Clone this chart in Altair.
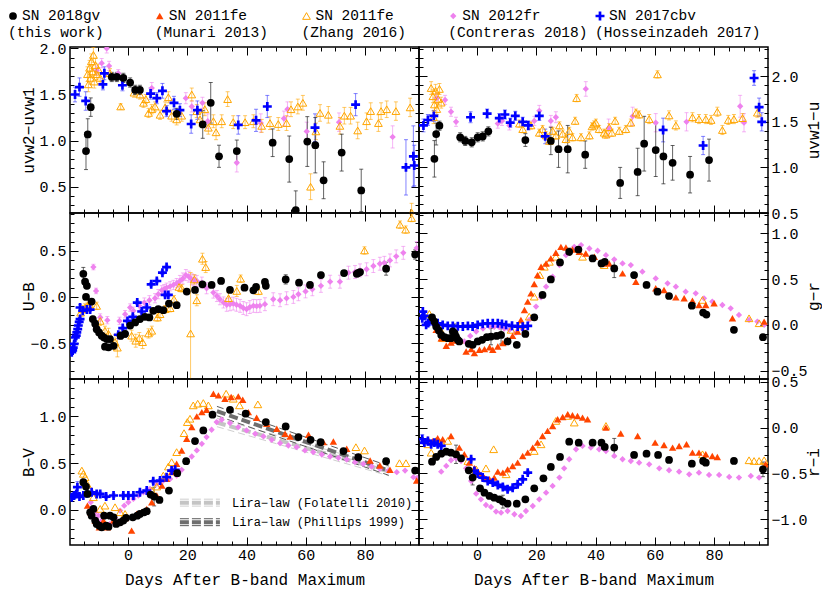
import altair as alt
import pandas as pd

# ------------------------------------------------------------------ settings
XDOM = [-19.6, 98.2]
W, H = 349, 166
FONT = "Courier New, Courier, Liberation Mono, monospace"
XTITLE = "Days After B-band Maximum"
XMAJ = [0, 20, 40, 60, 80]
XMIN = [v for v in range(-15, 100, 5) if v % 20 != 0]

KEYS = ["gv", "munari", "zhang", "fr", "cbv"]
LEG1 = ["SN 2018gv", "SN 2011fe", "SN 2011fe", "SN 2012fr", "SN 2017cbv"]
LEG2 = ["(this work)", "(Munari 2013)", "(Zhang 2016)", "(Contreras 2018)", "(Hosseinzadeh 2017)"]
ORDER = ["fr", "zhang", "munari", "cbv", "gv"]

PLUS = "M-1,-0.3H-0.3V-1H0.3V-0.3H1V0.3H0.3V1H-0.3V0.3H-1Z"
STYLE = {
    "gv": dict(shape="circle", filled=True, color="black", size=60),
    "munari": dict(shape="triangle-up", filled=True, color="#FF4500", size=55),
    "zhang": dict(shape="triangle-up", filled=False, color="#FFA500", size=60, strokeWidth=1),
    "fr": dict(shape="diamond", filled=True, color="#EE82EE", size=40),
    "cbv": dict(shape=PLUS, filled=True, color="#0000FF", size=80),
}
ERRSTYLE = {"gv": ("#222222", 0.7), "munari": ("#FF4500", 0.5), "zhang": ("#FFA500", 0.6),
            "fr": ("#EE82EE", 0.6), "cbv": ("#3030FF", 0.6)}

# ------------------------------------------------------------------ uvw2-uvw1  (day, value, error)
uw2_gv = [(-14.2,0.886,0.20),(-13.6,1.067,0.17),(-12.6,1.363,0.10),(-5.5,1.69,0.05),(-3.8,1.69,0.05),
          (-1.6,1.68,0.05),(0.7,1.63,0.05),(2.4,1.55,0.05),(4.0,1.55,0.05),(16.4,1.29,0.06),
          (25.2,1.175,0.15),(27.9,1.41,0.22),(30.7,0.83,0.12),(36.7,0.886,0.12),(48.8,0.977,0.15),
          (54.4,0.80,0.25),(56.6,0.245,0.21),(60.5,0.99,0.27),(63.2,0.95,0.30),(66.0,0.57,0.20),
          (72.1,0.87,0.20),(78.7,0.46,0.23)]
uw2_cbv = [(-17.9,1.50,0.08),(-16.4,1.58,0.10),(-14.3,1.43,0.10),(-8.5,1.61,0.06),(-8.0,1.73,0.07),
           (-1.9,1.60,0.06),(7.6,1.51,0.06),(9.7,1.46,0.06),(11.6,1.54,0.08),(13.0,1.32,0.06),
           (15.5,1.41,0.07),(17.5,1.33,0.07),(21.3,1.18,0.10),(23.4,1.33,0.10),(37.2,1.17,0.10),
           (43.2,1.22,0.12),(47.0,1.37,0.12),(63.1,1.14,0.15),(76.8,1.39,0.12),(93.8,0.71,0.30),
           (96.3,0.83,0.33),(96.6,0.73,0.22)]
uw2_fr = [(-10.6,1.76,0.05),(-8.9,1.84,0.05),(-7.2,2.00,0.05),(-6.4,1.81,0.05),(-3.3,1.73,0.04),
          (8.0,1.57,0.06),(19.5,1.46,0.06),(21.5,1.37,0.06),(25.1,1.41,0.06),(26.9,1.21,0.08),
          (36.7,0.76,0.10),(44.8,1.19,0.10),(52.6,1.24,0.08),(53.8,1.34,0.08),(60.3,1.10,0.10),
          (71.2,1.20,0.10),(89.3,1.04,0.12)]
uw2_zh = [(-13.7,1.72,0.08),(-13.4,1.61,0.08),(-13.0,1.79,0.08),(-12.7,1.68,0.07),(-12.4,1.86,0.08),
          (-12.0,1.75,0.07),(-11.7,1.93,0.08),(-11.4,1.64,0.07),(-11.0,1.82,0.07),(-10.6,1.72,0.06),
          (-10.0,1.77,0.06),(-9.4,1.68,0.06),(-6.1,1.73,0.05),(-2.5,1.37,0.03),(2.0,1.52,0.05),
          (4.0,1.50,0.05),(5.2,1.41,0.05),(6.0,1.45,0.05),(6.9,1.30,0.05),(8.0,1.34,0.05),
          (9.1,1.37,0.05),(10.8,1.28,0.05),(12.5,1.36,0.06),(13.6,1.47,0.06),(14.7,1.27,0.06),
          (16.4,1.23,0.06),(18.1,1.27,0.06),(21.5,1.50,0.07),(23.2,1.32,0.07),(24.3,1.23,0.07),
          (25.9,1.34,0.07),(27.1,1.14,0.07),(28.8,1.21,0.07),(29.7,1.09,0.08),(31.6,1.21,0.07),
          (33.6,1.45,0.08),(35.5,1.20,0.07),(39.5,1.20,0.07),(42.3,1.21,0.07),(45.1,1.16,0.07),
          (47.9,1.19,0.07),(50.7,1.18,0.07),(53.5,1.19,0.08),(55.0,1.34,0.08),(57.3,1.37,0.08),
          (59.0,1.41,0.08),(61.6,0.50,0.14),(63.4,1.10,0.09),(64.8,1.30,0.09),(67.6,1.28,0.09),
          (71.5,1.16,0.09),(73.0,1.27,0.09),(75.1,1.27,0.09),(77.5,1.11,0.09),(80.5,1.21,0.09),
          (81.9,1.32,0.09),(84.5,1.19,0.09),(85.4,1.32,0.09),(87.3,1.34,0.09),(90.4,1.32,0.10),
          (95.2,1.36,0.10),(95.7,0.22,0.10)]

# ------------------------------------------------------------------ uvw1-u
uw1_gv = [(-14.4,1.094,0.20),(-13.8,1.366,0.12),(-12.7,1.457,0.05),(-5.7,1.33,0.05),(-4.0,1.29,0.05),
          (-1.8,1.275,0.05),(0.2,1.33,0.05),(1.9,1.34,0.05),(3.8,1.395,0.05),(16.3,1.30,0.07),
          (24.9,1.29,0.15),(27.5,1.20,0.20),(30.6,1.20,0.26),(36.5,1.14,0.15),(48.3,0.83,0.17),
          (54.2,0.95,0.26),(56.4,1.26,0.30),(60.3,1.19,0.29),(62.9,1.12,0.30),(66.0,1.05,0.19),
          (71.9,0.92,0.20),(78.3,1.08,0.23)]
uw1_cbv = [(-18.1,1.46,0.07),(-16.6,1.52,0.06),(-14.6,1.565,0.06),(-2.2,1.55,0.06),(3.4,1.59,0.05),
           (7.5,1.54,0.05),(9.4,1.58,0.05),(11.2,1.49,0.05),(12.9,1.565,0.05),(15.4,1.50,0.05),
           (17.3,1.46,0.05),(21.0,1.565,0.05),(23.0,1.34,0.08),(62.8,1.41,0.13),(76.3,1.24,0.10),
           (93.5,1.98,0.08),(95.2,1.66,0.10),(96.1,1.50,0.10)]
uw1_fr = [(-13.6,1.76,0.05),(-10.8,1.74,0.05),(-8.8,1.61,0.05),(-7.1,1.50,0.05),(7.0,1.48,0.05),
          (8.4,1.51,0.05),(10.9,1.46,0.05),(19.3,1.51,0.05),(21.0,1.62,0.06),(24.9,1.51,0.06),
          (26.6,1.55,0.06),(36.7,1.86,0.08),(44.4,1.43,0.10),(52.5,1.56,0.10),(60.3,1.49,0.10),
          (70.7,1.50,0.10),(88.8,1.67,0.12),(90.1,1.49,0.10)]
uw1_zh = [(-15.5,1.87,0.07),(-14.9,1.78,0.07),(-14.7,1.55,0.07),(-14.4,1.69,0.07),(-14.0,1.84,0.07),
          (-13.6,1.64,0.06),(-13.1,1.75,0.06),(-12.7,1.86,0.06),(-12.1,1.71,0.06),(14.3,1.48,0.04),
          (15.4,1.42,0.04),(18.2,1.46,0.04),(21.0,1.38,0.04),(22.1,1.42,0.04),(23.3,1.35,0.04),
          (24.4,1.29,0.04),(25.5,1.40,0.04),(26.6,1.35,0.04),(27.8,1.46,0.04),(28.9,1.37,0.04),
          (30.0,1.31,0.04),(31.1,1.40,0.04),(32.2,1.33,0.04),(33.1,1.51,0.04),(33.6,1.76,0.04),
          (35.1,1.33,0.04),(37.9,1.35,0.04),(38.8,1.45,0.04),(39.5,1.47,0.04),(40.1,1.49,0.04),
          (41.2,1.42,0.04),(42.9,1.38,0.04),(43.5,1.36,0.04),(44.6,1.44,0.04),(45.5,1.38,0.04),
          (46.6,1.51,0.04),(48.0,1.40,0.04),(50.2,1.42,0.04),(51.9,1.49,0.04),(53.6,1.60,0.04),
          (54.7,1.58,0.04),(58.1,1.53,0.05),(60.9,2.02,0.04),(64.8,1.57,0.05),(67.1,1.46,0.05),
          (72.7,1.55,0.05),(74.9,1.53,0.05),(77.2,1.53,0.05),(79.0,1.52,0.05),(81.1,1.61,0.05),
          (82.8,1.41,0.05),(84.8,1.52,0.05),(86.7,1.53,0.05),(89.6,1.54,0.05),(94.6,1.60,0.05)]

# ------------------------------------------------------------------ U-B
ub_gv = [(-15.1,0.25,0.07),(-14.5,0.165,0.03),(-13.9,0.12,0.03),(-14.2,0.0,0.02),(-12.3,-0.05,0.03),
         (-11.9,-0.24,0.03),(-11.1,-0.29,0.02),(-10.6,-0.35,0.02),(-9.8,-0.385,0.02),(-8.9,-0.42,0.02),
         (-8.1,-0.44,0.02),(-7.2,-0.457,0.02),(-6.1,-0.457,0.02),(-7.8,-0.54,0.02),(-6.6,-0.547,0.02),
         (-4.9,-0.53,0.02),(-2.5,-0.42,0.04),(-1.0,-0.40,0.04),(0.7,-0.31,0.02),(2.4,-0.277,0.02),
         (4.0,-0.24,0.02),(5.7,-0.216,0.02),(7.2,-0.223,0.02),(8.5,-0.15,0.03),(10.2,-0.133,0.02),
         (11.9,-0.144,0.02),(13.8,-0.072,0.02),(16.4,-0.09,0.02),(19.8,0.058,0.02),(22.6,0.076,0.02),
         (25.1,0.137,0.02),(28.2,0.13,0.02),(31.4,0.173,0.03),(34.4,0.076,0.02),(39.3,0.10,0.02),
         (42.3,0.072,0.02),(43.2,0.108,0.02),(46.2,0.162,0.02),(46.5,0.12,0.02),(53.2,0.19,0.05),
         (57.7,0.155,0.03),(61.4,0.13,0.03),(65.1,0.237,0.03),(72.9,0.259,0.02),(77.2,0.25,0.03),
         (77.7,0.26,0.02),(78.3,0.27,0.02),(87.1,0.306,0.07),(96.9,0.46,0.05)]
ub_cbv = [(-19.0,-0.60,0.02),(-18.7,-0.58,0.02),(-18.5,-0.55,0.02),(-18.2,-0.51,0.02),(-17.8,-0.44,0.02),
          (-17.5,-0.42,0.02),(-17.3,-0.385,0.02),(-17.0,-0.35,0.02),(-16.8,-0.31,0.02),(-16.5,-0.27,0.02),
          (-16.2,-0.24,0.02),(-16.2,-0.115,0.03),(-15.3,-0.15,0.02),(-13.9,-0.137,0.02),(-12.8,-0.137,0.02),
          (-3.3,-0.41,0.02),(-1.8,-0.338,0.02),(-0.2,-0.26,0.02),(1.6,-0.216,0.02),(3.1,-0.061,0.02),
          (4.6,-0.158,0.02),(6.3,-0.115,0.02),(7.8,0.137,0.02),(9.7,0.173,0.02),(11.6,0.263,0.02),
          (13.0,0.324,0.02),(12.5,0.022,0.02),(13.6,0.022,0.02)]
ub_fr = [(-11.7,0.324,0.03),(-10.8,0.065,0.03),(-9.4,-0.223,0.04),(-7.0,-0.252,0.04),(-2.9,-0.26,0.04),
         (-1.0,-0.187,0.04),(0.7,-0.115,0.04),(1.8,-0.15,0.04),(3.8,-0.097,0.05),(5.5,-0.061,0.05),
         (7.2,-0.036,0.05),(9.1,-0.014,0.05),(10.2,0.03,0.05),(11.4,0.072,0.05),(12.2,0.085,0.05),
         (13.0,0.10,0.05),(14.2,0.115,0.05),(15.3,0.13,0.05),(16.4,0.15,0.05),(17.5,0.173,0.06),
         (18.5,0.20,0.06),(19.5,0.237,0.06),(20.5,0.22,0.06),(21.5,0.19,0.06),(22.3,0.18,0.06),
         (23.2,0.173,0.06),(24.9,0.155,0.06),(26.5,0.094,0.06),(28.8,0.047,0.06),(30.0,0.01,0.06),
         (31.0,-0.025,0.06),(32.2,-0.06,0.06),(33.3,-0.086,0.07),(34.4,-0.08,0.07),(35.5,-0.072,0.07),
         (36.6,-0.085,0.07),(37.8,-0.097,0.07),(38.9,-0.12,0.07),(40.0,-0.133,0.07),(41.1,-0.11,0.07),
         (42.3,-0.097,0.07),(43.4,-0.10,0.07),(44.5,-0.097,0.07),(46.2,-0.079,0.07),(49.0,-0.025,0.07),
         (51.3,-0.036,0.07),(53.5,-0.014,0.07),(55.8,0.0,0.07),(57.5,0.029,0.07),(59.9,0.06,0.07),
         (62.2,0.083,0.07),(65.1,0.12,0.07),(68.2,0.165,0.07),(71.5,0.165,0.07),(74.4,0.263,0.07),
         (76.6,0.27,0.07),(78.3,0.288,0.07),(80.5,0.30,0.07),(82.8,0.335,0.07),(85.0,0.36,0.07),
         (86.5,0.37,0.07),(88.4,0.396,0.07),(90.5,0.44,0.07),(92.9,0.478,0.07),(97.4,0.53,0.07)]
ub_zh = [(-16.0,-0.17,0.04),(-15.3,-0.133,0.04),(-14.5,-0.115,0.04),(-13.7,-0.097,0.04),(-13.0,-0.079,0.04),
         (-10.6,-0.097,0.04),(-9.4,-0.26,0.05),(-7.8,-0.367,0.05),(-6.6,-0.40,0.06),(-4.4,-0.49,0.08),
         (-3.6,-0.55,0.10),(1.2,-0.42,0.06),(2.6,-0.475,0.07),(3.8,-0.446,0.06),(4.9,-0.49,0.07),
         (6.9,-0.396,0.05),(8.0,-0.367,0.05),(9.9,-0.223,0.04),(10.8,-0.187,0.04),(12.5,-0.133,0.04),
         (14.2,-0.122,0.04),(15.5,-0.025,0.04),(17.2,0.108,0.04),(18.1,0.094,0.04),(21.1,-0.396,0.66),
         (22.4,0.19,0.05),(23.2,-0.036,0.06),(25.1,0.414,0.06),(26.2,0.324,0.06),(33.9,-0.014,0.06),
         (36.7,0.065,0.06),(38.0,0.198,0.04),(44.0,0.065,0.04),(79.8,0.504,0.04),(91.8,0.784,0.04),
         (93.7,0.73,0.04),(95.7,0.856,0.04)]

# ------------------------------------------------------------------ g-r
gr_gv = [(-15.2,0.083,0.02),(-14.4,0.036,0.02),(-13.8,-0.018,0.02),(-12.9,-0.062,0.02),(-12.1,-0.109,0.02),
         (-11.0,-0.134,0.02),(-9.9,-0.145,0.02),(-8.8,-0.145,0.02),(-8.2,-0.072,0.02),(-7.6,-0.09,0.10),
         (-7.1,-0.127,0.02),(-6.5,-0.163,0.02),(-6.0,-0.18,0.02),(-2.8,-0.207,0.02),(-1.5,-0.217,0.02),
         (0.2,-0.18,0.02),(1.7,-0.163,0.02),(3.3,-0.134,0.02),(4.7,-0.127,0.09),(6.6,-0.12,0.02),
         (8.1,-0.109,0.10),(10.3,-0.18,0.02),(13.4,-0.217,0.02),(16.3,-0.098,0.02),(19.3,0.083,0.02),
         (22.1,0.326,0.02),(24.9,0.496,0.02),(28.0,0.681,0.02),(31.1,0.797,0.04),(34.2,0.822,0.02),
         (39.0,0.725,0.02),(42.0,0.67,0.02),(43.1,0.688,0.02),(46.3,0.616,0.10),(53.0,0.543,0.03),
         (57.2,0.435,0.02),(60.9,0.362,0.02),(64.8,0.315,0.02),(72.5,0.21,0.02),(76.3,0.134,0.02),
         (77.4,0.112,0.02),(86.7,-0.054,0.02),(96.5,-0.134,0.03)]
gr_cbv = [(-18.5,0.072),(-18.3,0.145),(-17.8,0.098),(-17.2,0.0),(-16.5,0.02),(-14.9,0.036),(-13.3,0.018),
          (-11.6,0.0),(-9.9,-0.011),(-8.2,-0.011),(-6.5,-0.015),(-4.8,-0.018),(-3.1,-0.011),(-1.5,-0.018),
          (0.2,0.0),(1.9,0.011),(3.6,0.018),(5.3,0.018),(7.0,0.018),(8.4,0.01),(9.8,0.0),(11.8,-0.01),
          (13.7,-0.018),(15.4,-0.02),(17.1,-0.011)]
gr_fr = [(-4.3,-0.18),(-2.3,-0.12),(-0.3,-0.072),(2.0,-0.04),(4.2,-0.018),(5.8,-0.02),(7.5,-0.025),
         (9.2,-0.04),(10.9,-0.054),(13.1,-0.083),(15.4,-0.047),(17.6,0.054),(19.9,0.20),(21.6,0.30),
         (23.3,0.417),(25.5,0.525),(27.8,0.652),(30.0,0.76),(32.8,0.851),(35.1,0.87),(37.9,0.833),
         (40.7,0.808),(43.5,0.76),(46.3,0.714),(49.1,0.67),(51.9,0.652),(55.8,0.58),(60.3,0.507),
         (64.3,0.453),(67.1,0.417),(70.4,0.362),(73.8,0.344),(76.6,0.29),(79.4,0.254),(82.8,0.217),
         (85.6,0.181),(88.4,0.109),(91.8,0.054),(94.6,0.036),(96.9,0.0)]
gr_mun = [(-13.8,-0.054),(-12.1,-0.145),(-10.4,-0.228),(-8.8,-0.192),(-7.1,-0.17),(-3.7,-0.29),(-2.0,-0.264),
          (-0.9,-0.308),(0.8,-0.272),(2.5,-0.264),(4.2,-0.243),(5.3,-0.272),(7.0,-0.236),(8.7,-0.199),
          (10.3,-0.163),(12.0,-0.12),(13.7,-0.072),(14.8,0.054),(16.0,0.163),(17.1,0.254),(18.2,0.344),
          (19.3,0.446),(20.4,0.543),(21.6,0.634),(23.3,0.67),(24.9,0.725),(26.6,0.786),(28.3,0.851),
          (30.0,0.844),(32.2,0.822),(34.5,0.797),(36.7,0.779),(39.6,0.743),(42.4,0.67),(44.6,0.67),
          (49.1,0.562),(53.6,0.471),(60.3,0.399),(63.1,0.38),(67.1,0.30),(69.9,0.29),(72.7,0.264),
          (74.9,0.217),(77.2,0.217),(80.0,0.236),(86.2,0.072),(96.9,0.036)]
gr_zh = [(-16.1,0.12),(-14.9,0.054),(-12.7,-0.036),(-11.6,-0.145),(-8.2,-0.15),(-6.0,-0.163),(11.5,-0.054),
         (14.8,0.0),(17.6,0.09),(19.3,0.308),(21.2,0.543),(22.7,0.634),(24.4,0.688),(26.6,0.743),
         (35.6,0.743),(42.9,0.652),(76.1,0.272),(91.8,0.072),(95.2,0.018)]

# ------------------------------------------------------------------ B-V
bv_gv = [(-15.1,0.296,0.03),(-14.2,0.25,0.03),(-13.7,0.171,0.02),(-12.8,-0.025,0.02),(-12.3,-0.061,0.02),
         (-11.7,0.011,0.02),(-11.1,-0.114,0.02),(-10.6,-0.15,0.02),(-9.7,-0.168,0.02),(-8.9,-0.186,0.02),
         (-8.1,-0.061,0.02),(-7.4,-0.168,0.02),(-6.6,-0.179,0.02),(-6.1,-0.061,0.02),(-4.9,-0.079,0.02),
         (-4.0,-0.15,0.02),(-2.7,-0.132,0.02),(-1.6,-0.114,0.02),(-0.7,-0.086,0.02),(1.6,-0.079,0.02),
         (3.1,-0.061,0.02),(4.0,-0.043,0.02),(5.4,-0.025,0.02),(6.3,-0.014,0.02),(7.6,0.164,0.02),
         (8.8,0.143,0.10),(10.6,0.107,0.02),(13.8,0.207,0.02),(16.6,0.393,0.02),(19.6,0.521,0.02),
         (22.6,0.736,0.02),(25.4,0.85,0.02),(28.5,1.018,0.02),(34.4,1.071,0.02),(39.7,1.029,0.02),
         (46.5,0.939,0.02),(53.2,0.893,0.03),(57.5,0.779,0.02),(61.6,0.75,0.02),(65.0,0.725,0.02),
         (72.7,0.629,0.02),(77.7,0.564,0.02),(87.1,0.521,0.03),(96.9,0.421,0.03)]
bv_cbv = [(-19.0,0.136,0.02),(-18.2,0.154,0.02),(-17.5,0.171,0.02),(-17.1,0.243,0.06),(-16.4,0.143,0.02),
          (-15.1,0.154,0.02),(-13.9,0.179,0.02),(-12.3,0.189,0.02),(-10.6,0.171,0.02),(-9.4,0.171,0.02),
          (-7.4,0.143,0.02),(-4.9,0.154,0.02),(-1.6,0.154,0.02),(0.1,0.154,0.02),(1.8,0.154,0.02),
          (4.0,0.189,0.02),(6.3,0.207,0.02),(8.5,0.307,0.02),(10.8,0.314,0.02),(13.0,0.35,0.02),
          (14.7,0.421,0.02),(15.9,0.429,0.02)]
bv_fr = [(-12.6,0.082),(-11.1,-0.025),(-10.0,-0.061),(-8.9,-0.114),(-7.8,-0.157),(-6.1,-0.15),(-4.4,-0.086),
         (-2.7,-0.007),(-1.3,0.046),(0.1,0.082),(1.8,0.118),(3.5,0.154),(5.2,0.189),(7.4,0.225),(9.7,0.279),
         (11.9,0.314),(14.2,0.332),(16.4,0.368),(18.1,0.429),(19.8,0.511),(21.5,0.571),(23.2,0.636),
         (24.9,0.707),(26.5,0.779),(28.2,0.857),(29.9,0.939),(31.6,0.964),(34.4,0.929),(37.2,0.886),
         (40.0,0.85),(42.9,0.814),(45.7,0.786),(48.5,0.75),(51.3,0.714),(54.1,0.689),(56.9,0.671),
         (59.7,0.636),(62.5,0.618),(65.4,0.593),(68.2,0.571),(71.0,0.557),(73.8,0.539),(76.6,0.511),
         (79.4,0.493),(82.2,0.464),(85.0,0.439),(87.9,0.421),(90.7,0.404),(93.5,0.421),(96.3,0.35),
         (97.6,0.343)]
bv_mun = [(-13.7,0.046),(-12.6,-0.025),(-11.1,-0.114),(-9.7,-0.186),(-8.3,-0.114),(-7.0,-0.186),(-4.9,-0.114),
          (-3.3,-0.132),(-1.0,-0.086),(1.2,-0.221),(2.9,-0.043),(4.6,-0.025),(6.3,0.011),(8.0,0.082),
          (9.7,0.154),(11.4,0.261),(13.0,0.332),(14.7,0.404),(16.4,0.493),(18.1,0.636),(19.8,0.761),
          (21.5,0.886),(23.2,1.0),(24.9,1.046),(26.5,1.071),(28.8,1.243),(30.5,1.225),(32.7,1.189),
          (34.8,1.207),(37.2,1.214),(38.7,1.179),(40.6,1.046),(43.4,0.986),(46.8,0.921),(50.2,0.868),
          (53.0,0.814),(54.7,0.786),(60.9,0.804),(65.9,0.725),(69.3,0.732),(73.8,0.654),(77.7,0.571),
          (81.7,0.529),(85.0,0.475),(88.4,0.429),(97.4,0.314)]
bv_zh = [(-15.6,0.421),(-15.1,0.386),(-14.5,0.35),(-13.7,0.271),(-11.7,0.136),(-9.4,0.011),(-7.8,0.046),
         (-4.4,0.029),(-2.7,-0.025),(-1.0,-0.043),(8.0,0.207),(9.7,0.25),(11.9,0.368),(13.6,0.464),
         (14.7,0.511),(16.4,0.618),(18.9,0.821),(20.0,0.939),(20.9,0.975),(22.0,1.118),(23.5,1.136),
         (25.4,1.143),(27.1,1.118),(33.1,1.243),(35.5,1.189),(37.6,1.118),(43.8,1.129),(76.9,0.671),
         (79.8,0.636),(91.6,0.50),(93.8,0.50)]

# ------------------------------------------------------------------ r-i
ri_gv = [(-15.2,-0.371,0.02),(-13.8,-0.32,0.02),(-12.1,-0.284,0.02),(-10.4,-0.262,0.02),(-8.8,-0.273,0.02),
         (-7.1,-0.291,0.10),(-5.4,-0.335,0.02),(-2.8,-0.465,0.02),(-1.5,-0.545,0.08),(1.0,-0.662,0.02),
         (2.5,-0.709,0.02),(4.2,-0.745,0.02),(5.8,-0.764,0.02),(7.5,-0.782,0.02),(8.7,-0.807,0.07),
         (10.3,-0.829,0.02),(13.4,-0.829,0.02),(16.3,-0.782,0.02),(19.3,-0.662,0.02),(22.4,-0.553,0.02),
         (24.9,-0.429,0.02),(28.0,-0.32,0.02),(31.1,-0.153,0.03),(34.3,-0.164,0.02),(39.0,-0.164,0.02),
         (42.0,-0.164,0.02),(43.1,-0.211,0.02),(46.3,-0.218,0.10),(53.0,-0.298,0.02),(57.2,-0.284,0.02),
         (61.1,-0.298,0.02),(64.8,-0.353,0.02),(72.5,-0.393,0.02),(76.3,-0.364,0.02),(77.2,-0.382,0.02),
         (86.7,-0.364,0.03),(96.5,-0.455,0.08)]
ri_cbv = [(-18.5,-0.127,0.05),(-17.8,-0.164,0.02),(-16.6,-0.145,0.02),(-15.5,-0.182,0.02),(-14.4,-0.164,0.02),
          (-13.3,-0.182,0.02),(-12.1,-0.20,0.02),(-2.0,-0.345,0.02),(-0.9,-0.473,0.02),(0.2,-0.502,0.02),
          (1.9,-0.545,0.02),(3.6,-0.582,0.02),(5.3,-0.60,0.02),(7.0,-0.625,0.02),(8.7,-0.647,0.02),
          (10.3,-0.673,0.02),(12.0,-0.655,0.02),(13.7,-0.618,0.02),(15.4,-0.564,0.02),(17.1,-0.491,0.02)]
ri_fr = [(-12.1,-0.48),(-10.4,-0.418),(-8.8,-0.356),(-7.1,-0.335),(-5.4,-0.364),(-3.7,-0.444),(-2.0,-0.582),
         (-0.3,-0.72),(1.3,-0.782),(3.0,-0.844),(4.7,-0.865),(6.4,-0.916),(8.1,-0.927),(10.3,-0.909),
         (12.6,-0.945),(14.8,-0.964),(16.5,-0.909),(18.8,-0.855),(21.0,-0.782),(23.3,-0.709),(25.5,-0.636),
         (27.8,-0.545),(29.4,-0.444),(31.1,-0.345),(33.4,-0.236),(35.6,-0.20),(38.4,-0.218),(41.2,-0.236),
         (43.5,-0.255),(46.3,-0.309),(49.1,-0.345),(51.9,-0.364),(54.7,-0.382),(58.1,-0.40),(61.5,-0.444),
         (64.8,-0.465),(68.2,-0.48),(71.6,-0.509),(74.9,-0.491),(78.3,-0.516),(81.7,-0.516),(85.1,-0.538),
         (88.4,-0.545),(92.4,-0.527),(95.2,-0.545)]
ri_mun = [(-16.6,-0.127),(-14.9,-0.145),(-13.3,-0.116),(-11.6,-0.127),(-8.8,-0.091),(-6.0,-0.218),(-4.3,-0.291),
          (-2.6,-0.382),(-0.9,-0.444),(0.8,-0.502),(2.5,-0.545),(4.2,-0.564),(5.8,-0.545),(7.0,-0.48),
          (8.7,-0.491),(10.3,-0.455),(12.0,-0.418),(13.7,-0.382),(15.4,-0.309),(17.1,-0.273),(18.8,-0.218),
          (20.4,-0.164),(22.1,-0.091),(23.8,-0.036),(25.5,0.018),(27.2,0.091),(28.9,0.116),(30.6,0.145),
          (32.2,0.135),(33.9,0.127),(35.6,0.109),(37.3,0.091),(43.5,0.0),(48.5,-0.065),(54.2,-0.091),
          (60.1,-0.164),(63.1,-0.189),(66.0,-0.218),(68.2,-0.20),(70.7,-0.182),(72.7,-0.273),(74.9,-0.273),
          (77.2,-0.291),(79.4,-0.309),(81.1,-0.32),(97.4,-0.40)]
ri_zh = [(-16.6,-0.182),(-15.5,-0.273),(-13.8,-0.145),(-12.1,-0.164),(-9.9,-0.145),(-3.1,-0.364),(-0.3,-0.455),
         (3.0,-0.444),(5.6,-0.236),(9.8,-0.509),(19.3,-0.255),(21.6,-0.182),(26.6,0.073),(30.6,0.127),
         (32.8,0.055),(43.5,0.018),(76.1,-0.291),(91.8,-0.356),(93.5,-0.364),(95.2,-0.364),(96.9,-0.356)]

# ------------------------------------------------------------------ Lira law (B-V panel)
lira_day = [30.0, 88.0]
lira_fol = [0.935, 0.41]
lira_phi = [1.057, 0.42]
lira_fol_sig = 0.045
lira_phi_sig = 0.05
lira_leg_day = [17.5, 31.0]
lira_leg_val = [0.078, -0.131]
lira_leg_text = ["Lira\u2212law (Folatelli 2010)", "Lira\u2212law (Phillips 1999)"]
lira_leg_text_day = 35.1
lira_leg_sig = 0.037


# ------------------------------------------------------------------ helpers
def data_layers(data, xs, ys, extra=None):
    X = alt.X("day:Q", scale=xs, axis=None)
    layers = []
    for key in ORDER:
        rows = data.get(key)
        if not rows or len(rows[0]) < 3:
            continue
        df = pd.DataFrame(rows, columns=["day", "val", "err"])
        df = df[df.err > 0].copy()
        df["lo"] = df.val - df.err
        df["hi"] = df.val + df.err
        col, op = ERRSTYLE[key]
        layers.append(
            alt.Chart(df).mark_errorbar(color=col, opacity=op, clip=True,
                                        ticks={"size": 4}, rule={"strokeWidth": 1})
            .encode(x=X, y=alt.Y("lo:Q", scale=ys, axis=None), y2="hi:Q"))
    if extra is not None:
        layers += extra(xs, ys)
    for key in ORDER:
        rows = data.get(key)
        if not rows:
            continue
        df = pd.DataFrame([r[:2] for r in rows], columns=["day", "val"])
        layers.append(alt.Chart(df).mark_point(opacity=1, clip=True, **STYLE[key])
                      .encode(x=X, y=alt.Y("val:Q", scale=ys, axis=None)))
    return layers


def axis_layers(ydom, side, bottom, ytitle, xs, ys):
    other = "right" if side == "left" else "left"
    base = pd.DataFrame({"day": XDOM, "val": ydom})
    ymaj = [k / 2 for k in range(-6, 7) if ydom[0] <= k / 2 <= ydom[1]]
    ymin = [k / 10 for k in range(-20, 30) if k % 5 != 0 and ydom[0] <= k / 10 <= ydom[1]]
    tk = dict(domain=False, grid=False, tickColor="black", tickWidth=1)

    def xa(orient, minor, show):
        size = 4 if minor else 8
        d = dict(orient=orient, values=XMIN if minor else XMAJ, offset=-size, tickSize=size,
                 labels=show, title=XTITLE if show else None, **tk)
        if show:
            d.update(labelFontSize=15, labelPadding=2, labelFlush=False, labelOverlap=False,
                     labelColor="black", titleColor="black", titleFontSize=16,
                     titleFontWeight="normal", titleY=34, titleBaseline="top")
        return alt.Axis(**d)

    def ya(orient, minor, show):
        size = 4 if minor else 8
        d = dict(orient=orient, values=ymin if minor else ymaj, offset=-size, tickSize=size,
                 labels=show, title=ytitle if show else None, **tk)
        if show:
            d.update(format=".1f", labelFontSize=15, labelPadding=(4 if orient == "left" else 3),
                     labelFlush=False, labelOverlap=False, labelColor="black", titleColor="black",
                     titleFontSize=16, titleFontWeight="normal", titleAngle=270,
                     titleX=(-50 if orient == "left" else 53), titleY=H / 2,
                     titleBaseline="middle", titleAlign="center")
        return alt.Axis(**d)

    specs = [(xa("bottom", False, bottom), ya(side, False, True)),
             (xa("top", False, False), ya(other, False, False)),
             (xa("bottom", True, False), ya(side, True, False)),
             (xa("top", True, False), ya(other, True, False))]
    out = []
    for xax, yax in specs:
        out.append(alt.Chart(base).mark_point(opacity=0, size=1, clip=True).encode(
            x=alt.X("day:Q", scale=xs, axis=xax),
            y=alt.Y("val:Q", scale=ys, axis=yax)))
    return out


def panel(data, ydom, ytitle, side, bottom, extra=None):
    xs = alt.Scale(domain=XDOM, nice=False, zero=False)
    ys = alt.Scale(domain=ydom, nice=False, zero=False)
    layers = data_layers(data, xs, ys, extra) + axis_layers(ydom, side, bottom, ytitle, xs, ys)
    return (alt.layer(*layers)
            .resolve_axis(x="independent", y="independent")
            .properties(width=W, height=H))


def lira_layers(xs, ys):
    X = alt.X("day:Q", scale=xs, axis=None)
    out = []
    for vals, sig, thick, thin in [(lira_fol, lira_fol_sig, "#C4C4C4", "#CFCFCF"),
                                   (lira_phi, lira_phi_sig, "#6E6E6E", "#5A5A5A")]:
        rows = []
        for i, d in enumerate(lira_day):
            rows.append({"day": d, "val": vals[i] + sig, "line": "up"})
            rows.append({"day": d, "val": vals[i] - sig, "line": "dn"})
        thin_df = pd.DataFrame(rows)
        mid_df = pd.DataFrame({"day": lira_day, "val": vals})
        out.append(alt.Chart(thin_df).mark_line(color=thin, strokeWidth=1, strokeDash=[7, 4], clip=True)
                   .encode(x=X, y=alt.Y("val:Q", scale=ys, axis=None), detail="line:N"))
        out.append(alt.Chart(mid_df).mark_line(color=thick, strokeWidth=4, strokeDash=[9, 4], clip=True)
                   .encode(x=X, y=alt.Y("val:Q", scale=ys, axis=None)))
    # key of the two Lira laws
    for j, (thick, thin) in enumerate([("#C4C4C4", "#CFCFCF"), ("#6E6E6E", "#5A5A5A")]):
        v = lira_leg_val[j]
        rows = []
        for d in lira_leg_day:
            rows.append({"day": d, "val": v + lira_leg_sig, "line": "up"})
            rows.append({"day": d, "val": v - lira_leg_sig, "line": "dn"})
        out.append(alt.Chart(pd.DataFrame(rows)).mark_line(color=thin, strokeWidth=1, strokeDash=[9, 3])
                   .encode(x=X, y=alt.Y("val:Q", scale=ys, axis=None), detail="line:N"))
        out.append(alt.Chart(pd.DataFrame({"day": lira_leg_day, "val": [v, v]}))
                   .mark_line(color=thick, strokeWidth=4, strokeDash=[9, 3])
                   .encode(x=X, y=alt.Y("val:Q", scale=ys, axis=None)))
    tdf = pd.DataFrame({"day": [lira_leg_text_day] * 2, "val": lira_leg_val, "t": lira_leg_text})
    out.append(alt.Chart(tdf).mark_text(align="left", baseline="middle", font=FONT, fontSize=12,
                                        color="black")
               .encode(x=X, y=alt.Y("val:Q", scale=ys, axis=None), text="t:N"))
    return out


# ------------------------------------------------------------------ panels
TL = panel({"gv": uw2_gv, "cbv": uw2_cbv, "fr": uw2_fr, "zhang": uw2_zh},
           [0.215, 2.015], "uvw2\u2212uvw1", "left", False)
TR = panel({"gv": uw1_gv, "cbv": uw1_cbv, "fr": uw1_fr, "zhang": uw1_zh},
           [0.5, 2.32], "uvw1\u2212u", "right", False)
ML = panel({"gv": ub_gv, "cbv": ub_cbv, "fr": ub_fr, "zhang": ub_zh},
           [-0.89, 0.91], "U\u2212B", "left", False)
MR = panel({"gv": gr_gv, "cbv": gr_cbv, "fr": gr_fr, "munari": gr_mun, "zhang": gr_zh},
           [-0.59, 1.22], "g\u2212r", "right", False)
BL = panel({"gv": bv_gv, "cbv": bv_cbv, "fr": bv_fr, "munari": bv_mun, "zhang": bv_zh},
           [-0.375, 1.40], "B\u2212V", "left", True, extra=lira_layers)
BR = panel({"gv": ri_gv, "cbv": ri_cbv, "fr": ri_fr, "munari": ri_mun, "zhang": ri_zh},
           [-1.28, 0.53], "r\u2212i", "right", True)

grid = alt.concat(TL, TR, ML, MR, BL, BR, columns=2, spacing=0, bounds="flush")

# ------------------------------------------------------------------ legend row
leg_df = pd.DataFrame({"key": KEYS, "l1": LEG1, "l2": LEG2})
lx = alt.X("key:N", scale=alt.Scale(type="point", domain=KEYS, range=[-57, 530], padding=0), axis=None)
leg_layers = []
for k in KEYS:
    leg_layers.append(alt.Chart(leg_df[leg_df.key == k]).mark_point(opacity=1, **STYLE[k])
                      .encode(x=lx, y=alt.value(7)))
leg_layers.append(alt.Chart(leg_df).mark_text(align="left", baseline="middle", dx=9, font=FONT,
                                              fontSize=14.5, color="black")
                  .encode(x=lx, y=alt.value(7), text="l1:N"))
leg_layers.append(alt.Chart(leg_df).mark_text(align="left", baseline="middle", dx=-5, font=FONT,
                                              fontSize=14.5, color="black")
                  .encode(x=lx, y=alt.value(24), text="l2:N"))
legend = alt.layer(*leg_layers).properties(width=2 * W, height=38,
                                           view=alt.ViewBackground(strokeOpacity=0))

chart = (alt.vconcat(legend, grid, spacing=0, bounds="flush")
         .properties(padding=0)
         .configure(font=FONT)
         .configure_axis(labelFont=FONT, titleFont=FONT)
         .configure_view(stroke="black", strokeWidth=1.5))

chart.save("out.html", embed_options={"renderer": "svg", "actions": False})
